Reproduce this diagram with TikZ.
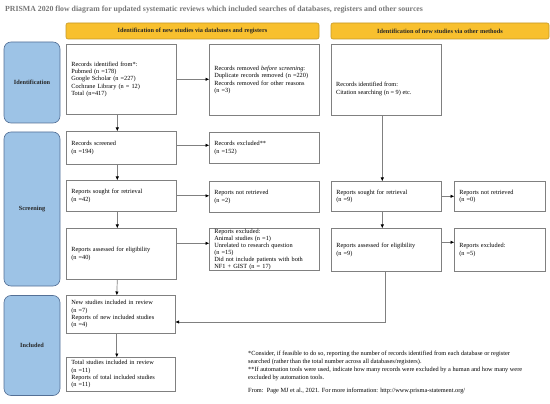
\documentclass[tikz,border=0pt]{standalone}
\usepackage{fontspec}
\setmainfont{Liberation Serif}
\usepackage{xcolor}
\usetikzlibrary{arrows.meta,positioning,calc}

\definecolor{linegray}{RGB}{128,128,128}
\definecolor{phaseblue}{RGB}{157,195,230}
\definecolor{phaseedge}{RGB}{84,112,150}
\definecolor{headyellow}{RGB}{248,192,46}
\definecolor{headedge}{RGB}{196,152,40}
\definecolor{titlegray}{RGB}{118,118,118}
\newcommand{\boxfont}{\fontsize{6.3}{7.4}\selectfont}

\tikzset{
  box/.style={draw=linegray, line width=0.6pt, fill=white, anchor=north west, align=left, inner xsep=5pt, inner ysep=1pt, font=\boxfont},
  phase/.style={draw=phaseedge, line width=0.6pt, fill=phaseblue, rounded corners=7pt, minimum width=56pt, font=\boxfont\bfseries, text=black!85},
  header/.style={draw=headedge, line width=0.6pt, fill=headyellow, rounded corners=2pt, minimum height=16pt, font=\boxfont\bfseries, text=black!85},
  arr/.style={draw=linegray, line width=0.7pt, -{Triangle[length=3.5pt,width=3pt,color=black]}}
}

\begin{document}
\begin{tikzpicture}[x=1pt, y=-1pt]
    \useasboundingbox (0,0) rectangle (550,404);

    % Title and column headers
    \node[anchor=west, inner sep=0pt, font=\fontsize{7.8}{9}\selectfont\bfseries, text=titlegray] (title) at (5,9.5)
        {PRISMA 2020 flow diagram for updated systematic reviews which included searches of databases, registers and other sources};
    \node[header, minimum width=253pt] (headdb) at (192.5,31) {Identification of new studies via databases and registers};
    \node[header, minimum width=218pt] (headother) at (440,31) {Identification of new studies via other methods};

    % Phases
    \node[phase, minimum height=81pt] (phid) at (32,82.5) {Identification};
    \node[phase, minimum height=154pt] (phscr) at (32,209) {Screening};
    \node[phase, minimum height=100pt] (phinc) at (32,345.5) {Included};

    % Databases and registers
    \node[box, text width=100pt, minimum height=70pt] (id) at (66,44)
        {Records identified from*:\\Pubmed (n =178)\\Google Scholar (n =227)\\Cochrane Library (n = 12)\\Total (n=417)};
    \node[box, text width=100pt, minimum height=71pt] (rem) at (209,44)
        {Records removed \textit{before screening}:\\Duplicate records removed (n =220)\\Records removed for other reasons\\(n =3)};
    \node[box, text width=100pt, minimum height=33pt] (scr) at (66,131) {Records screened\\(n =194)};
    \node[box, text width=100pt, minimum height=31pt] (exc) at (209,132) {Records excluded**\\(n =152)};
    \node[box, text width=100pt, minimum height=31pt] (sou) at (66,180) {Reports sought for retrieval\\(n =42)};
    \node[box, text width=100pt, minimum height=31pt] (nr) at (209,181) {Reports not retrieved\\(n =2)};
    \node[box, text width=100pt, minimum height=51pt] (ass) at (66,228) {Reports assessed for eligibility\\(n =40)};
    \node[box, text width=100pt, minimum height=42pt, inner ysep=0pt, font=\fontsize{6.3}{7}\selectfont] (rex) at (209,228)
        {Reports excluded:\\Animal studies (n =1)\\Unrelated to research question\\(n =15)\\Did not include patients with both\\NF1 + GIST (n = 17)};
    \node[box, text width=99pt, minimum height=38pt] (new) at (66,295)
        {New studies included in review\\(n =7)\\Reports of new included studies\\(n =4)};
    \node[box, text width=99pt, minimum height=34pt] (tot) at (66,357)
        {Total studies included in review\\(n =11)\\Reports of total included studies\\(n =11)};

    % Other methods
    \node[box, text width=100pt, minimum height=71pt] (oid) at (331,44) {};
    \node[anchor=west, align=left, inner sep=0pt, font=\boxfont] (oidtext) at ($(oid.west)+(5,9)$)
        {Records identified from:\\Citation searching (n = 9) etc.};
    \node[box, text width=100pt, minimum height=30pt] (rsou) at (331,181) {Reports sought for retrieval\\(n =9)};
    \node[box, text width=81pt, minimum height=30pt] (rnr) at (454,181) {Reports not retrieved\\(n =0)};
    \node[box, text width=100pt, minimum height=43pt] (rass) at (331,228) {Reports assessed for eligibility\\(n =9)};
    \node[box, text width=81pt, minimum height=43pt] (rrex) at (454,228) {Reports excluded:\\(n =5)};

    % Connectors
    \draw[arr] ([xshift=-4pt]id.south) -- ([xshift=-4pt]scr.north);
    \draw[arr] (id.east) -- (id.east -| rem.west);
    \draw[arr] ([yshift=2.5pt]scr.east) -- ([yshift=2.5pt]scr.east -| exc.west);
    \draw[arr] ([xshift=-4pt]scr.south) -- ([xshift=-4pt]sou.north);
    \draw[arr] (sou.east) -- (sou.east -| nr.west);
    \draw[arr] ([xshift=-4pt]sou.south) -- ([xshift=-4pt]ass.north);
    \draw[arr] ([yshift=10.5pt]ass.east) -- ([yshift=10.5pt]ass.east -| rex.west);
    \draw[arr] ([xshift=-4pt]ass.south) -- ([xshift=-4pt]new.north);
    \draw[arr] ([xshift=-4pt]new.south) -- ([xshift=-4pt]tot.north);
    \draw[arr] ([xshift=-4pt]oid.south) -- ([xshift=-4pt]rsou.north);
    \draw[arr] (rsou.east) -- (rsou.east -| rnr.west);
    \draw[arr] ([xshift=-4pt]rsou.south) -- ([xshift=-4pt]rass.north);
    \draw[arr] ([yshift=7.5pt]rass.east) -- ([yshift=7.5pt]rass.east -| rrex.west);
    \coordinate (bend) at ([xshift=-1pt]rass.south |- 0,322);
    \draw[arr] ([xshift=-1pt]rass.south) -- (bend) -- (bend -| new.east);

    % Footnotes
    \node[anchor=north west, align=left, inner sep=0pt, font=\fontsize{6.3}{8}\selectfont] (notes) at (248,351)
        {*Consider, if feasible to do so, reporting the number of records identified from each database or register\\
         searched (rather than the total number across all databases/registers).\\
         **If automation tools were used, indicate how many records were excluded by a human and how many were\\
         excluded by automation tools.\\[5pt]
         From:\ \ Page MJ et al., 2021. For more information: http://www.prisma-statement.org/};
\end{tikzpicture}
\end{document}
